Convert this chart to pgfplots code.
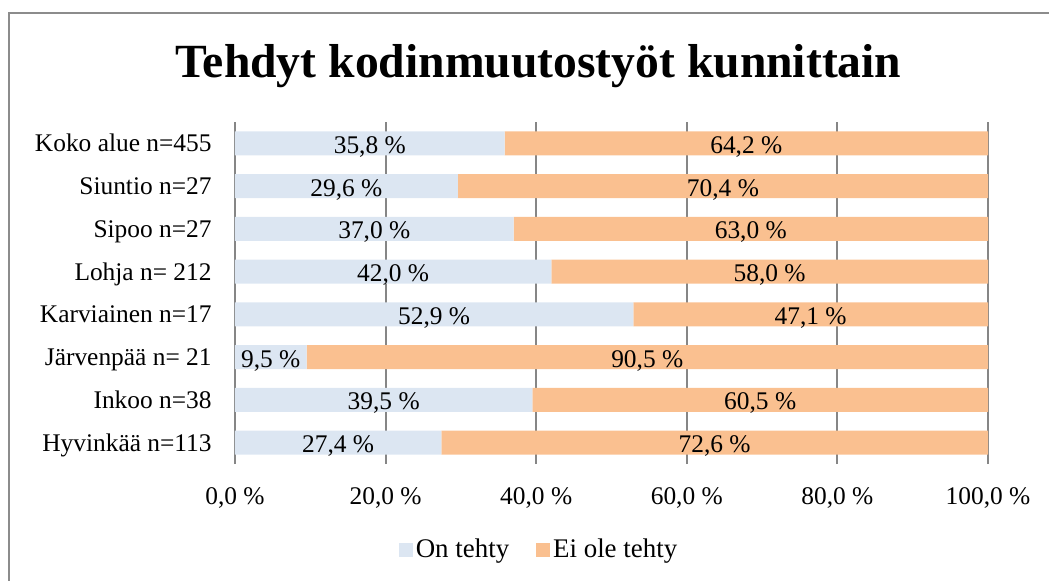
\documentclass[border=0pt]{standalone}
\usepackage{pgfplots}
\pgfplotsset{compat=1.18}
\usepackage{fontspec}
\setmainfont{Liberation Serif}
\definecolor{onblue}{HTML}{DCE6F2}
\definecolor{eiorange}{HTML}{FAC090}
\definecolor{gridgray}{HTML}{868686}
\definecolor{framegray}{HTML}{8C8C8C}
\newcommand{\lbl}{\fontsize{12.75}{15}\selectfont}
\newcommand{\lgd}{\fontsize{13.5}{16}\selectfont}
\pgfplotsset{
  base/.style={
    scale only axis, width=376.5bp, height=171bp,
    xmin=0, xmax=100, ymin=-0.5, ymax=7.5,
    at={(117.5bp,-232bp)}, anchor=south west,
  }
}
\begin{document}
\begin{tikzpicture}
\useasboundingbox (0,0) rectangle (524.5bp,-290.5bp);
\draw[framegray, line width=1bp] (4.7bp,-6.3bp) rectangle (540bp,-300bp);
\node[font=\bfseries\fontsize{23.9}{28}\selectfont, anchor=base] at (269.25bp,-38.5bp) {Tehdyt kodinmuutostyöt kunnittain};
\begin{axis}[base,
  xbar stacked, bar width=12bp,
  axis line style={draw=none},
  xmajorgrids, major grid style={gridgray, line width=1bp},
  major tick length=0pt,
  xtick={0,20,40,60,80,100},
  xticklabels={{0,0 \%},{20,0 \%},{40,0 \%},{60,0 \%},{80,0 \%},{100,0 \%}},
  xticklabel style={font=\lbl, anchor=base, yshift=-20bp, inner sep=0pt},
  ytick={0,...,7},
  yticklabels={Hyvinkää n=113, Inkoo n=38, Järvenpää n= 21, Karviainen n=17, Lohja n= 212, Sipoo n=27, Siuntio n=27, Koko alue n=455},
  yticklabel style={font=\lbl, anchor=base east, inner sep=0pt, xshift=-11.5bp, yshift=-4.2bp},
  legend style={at={(0.4044,-0.2515)}, anchor=center, draw=none, fill=none, font=\lgd,
     legend columns=2, nodes={inner sep=1.5bp},
     /tikz/every even column/.append style={column sep=12bp}},
  legend image code/.code={\fill[#1] (0bp,-3.5bp) rectangle (7bp,3.5bp);},
]
\addplot[fill=onblue, draw=none] coordinates {
(27.4,0) (39.5,1) (9.5,2) (52.9,3) (42.0,4) (37.0,5) (29.6,6) (35.8,7)};
\addlegendentry{On tehty}
\addplot[fill=eiorange, draw=none] coordinates {
(72.6,0) (60.5,1) (90.5,2) (47.1,3) (58.0,4) (63.0,5) (70.4,6) (64.2,7)};
\addlegendentry{Ei ole tehty}
\end{axis}
\begin{axis}[base, hide axis]
\addplot[draw=none, nodes near coords, point meta=explicit symbolic,
  every node near coord/.style={font=\lbl, anchor=base, inner sep=0pt, yshift=-5bp}]
coordinates {
(13.7,0) [27,4 \%] (19.75,1) [39,5 \%] (4.75,2) [9,5 \%] (26.45,3) [52,9 \%]
(21.0,4) [42,0 \%] (18.5,5) [37,0 \%] (14.8,6) [29,6 \%] (17.9,7) [35,8 \%]
(63.7,0) [72,6 \%] (69.75,1) [60,5 \%] (54.75,2) [90,5 \%] (76.45,3) [47,1 \%]
(71.0,4) [58,0 \%] (68.5,5) [63,0 \%] (64.8,6) [70,4 \%] (67.9,7) [64,2 \%]
};
\end{axis}
\end{tikzpicture}
\end{document}
